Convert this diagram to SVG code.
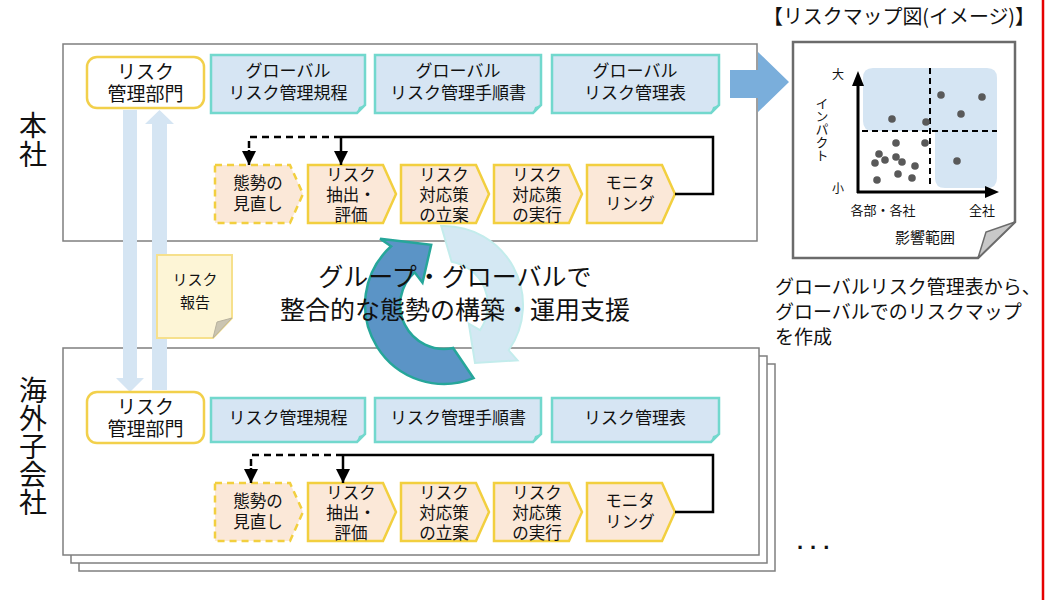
<svg xmlns="http://www.w3.org/2000/svg" width="1054" height="600" viewBox="0 0 1054 600">
<style>
text{font-family:"Noto Sans CJK JP","Noto Sans",sans-serif;fill:#111;}
.frame{fill:#fff;stroke:#7f7f7f;stroke-width:1.5;}
.mgmt{fill:#fff;stroke:#f2d04b;stroke-width:2.5;}
.doc{fill:#d6e5f3;stroke:#72d8cd;stroke-width:2.5;}
.fold{fill:#72d8cd;}
.proc{fill:#fbe8d8;stroke:#f2cf3f;stroke-width:2.5;}
.dash{stroke-dasharray:7,5;}
.t19{font-size:19px;text-anchor:middle;}
.t17{font-size:17px;text-anchor:middle;}
.t16{font-size:16.5px;text-anchor:middle;}
.conn{fill:none;stroke:#000;stroke-width:2.5;}
.rep{fill:#d5e5f3;}
.dot{fill:#595959;}
</style>
<defs>
<marker id="ah" viewBox="0 0 10 10" refX="10" refY="5" markerWidth="14" markerHeight="14" markerUnits="userSpaceOnUse" orient="auto"><path d="M0,0 L10,5 L0,10 z" fill="#000"/></marker>
</defs>

<!-- side labels -->
<g id="label-honsha"><text x="33" y="111" font-size="28" writing-mode="vertical-rl" letter-spacing="1">本社</text></g>
<g id="label-kaigai"><text x="33" y="376" font-size="28" writing-mode="vertical-rl">海外子会社</text></g>

<!-- frames -->
<g id="frame-top"><rect class="frame" x="63" y="44" width="694" height="197"/></g>
<g id="frame-bottom">
<rect class="frame" x="79" y="364" width="696" height="207"/>
<rect class="frame" x="71" y="356" width="696" height="207"/>
<rect class="frame" x="63" y="348" width="696" height="207"/>
</g>

<!-- report arrows -->
<g id="report-arrows">
<path class="rep" d="M123,110 H137 V378 H144 L130,392 L116,378 H123 Z"/>
<path class="rep" d="M152,390 V124 H145 L159.5,110 L174,124 H167 V390 Z"/>
</g>

<!-- top row (HQ) -->
<g id="hq-mgmt"><rect class="mgmt" x="87" y="57" width="117" height="51" rx="10"/>
<text class="t19" x="145.5" y="79">リスク<tspan x="145.5" dy="22">管理部門</tspan></text></g>
<g id="hq-doc1"><path class="doc" d="M211,55 H365 V105 L357,113 H211 Z"/><path class="fold" d="M357,113 L359,107 L365,105 Z"/>
<text class="t17" x="288" y="77">グローバル<tspan x="288" dy="22">リスク管理規程</tspan></text></g>
<g id="hq-doc2"><path class="doc" d="M375,55 H541 V105 L533,113 H375 Z"/><path class="fold" d="M533,113 L535,107 L541,105 Z"/>
<text class="t17" x="458" y="77">グローバル<tspan x="458" dy="22">リスク管理手順書</tspan></text></g>
<g id="hq-doc3"><path class="doc" d="M552,55 H719 V105 L711,113 H552 Z"/><path class="fold" d="M711,113 L713,107 L719,105 Z"/>
<text class="t17" x="635" y="77">グローバル<tspan x="635" dy="22">リスク管理表</tspan></text></g>

<g id="hq-p1"><path class="proc dash" d="M215,165 H290 L303,194 L290,223 H215 Z"/>
<text class="t16" x="258" y="189">態勢の<tspan x="258" dy="21">見直し</tspan></text></g>
<g id="hq-p2"><path class="proc" d="M308,165 H383 L396,194 L383,223 H308 Z"/>
<text class="t16" x="351" y="181">リスク<tspan x="351" dy="20">抽出・</tspan><tspan x="351" dy="20">評価</tspan></text></g>
<g id="hq-p3"><path class="proc" d="M401,165 H476 L489,194 L476,223 H401 Z"/>
<text class="t16" x="444" y="181">リスク<tspan x="444" dy="20">対応策</tspan><tspan x="444" dy="20">の立案</tspan></text></g>
<g id="hq-p4"><path class="proc" d="M494,165 H569 L582,194 L569,223 H494 Z"/>
<text class="t16" x="537" y="181">リスク<tspan x="537" dy="20">対応策</tspan><tspan x="537" dy="20">の実行</tspan></text></g>
<g id="hq-p5"><path class="proc" d="M587,165 H662 L675,194 L662,223 H587 Z"/>
<text class="t16" x="630" y="189">モニタ<tspan x="630" dy="21">リング</tspan></text></g>

<!-- bottom row (subsidiary) -->
<g id="sub-mgmt"><rect class="mgmt" x="87" y="392" width="117" height="51" rx="10"/>
<text class="t19" x="145.5" y="414">リスク<tspan x="145.5" dy="22">管理部門</tspan></text></g>
<g id="sub-doc1"><path class="doc" d="M211,398 H365 V434 L357,442 H211 Z"/><path class="fold" d="M357,442 L359,436 L365,434 Z"/>
<text class="t17" x="288" y="424">リスク管理規程</text></g>
<g id="sub-doc2"><path class="doc" d="M375,398 H541 V434 L533,442 H375 Z"/><path class="fold" d="M533,442 L535,436 L541,434 Z"/>
<text class="t17" x="458" y="424">リスク管理手順書</text></g>
<g id="sub-doc3"><path class="doc" d="M552,398 H719 V434 L711,442 H552 Z"/><path class="fold" d="M711,442 L713,436 L719,434 Z"/>
<text class="t17" x="635" y="424">リスク管理表</text></g>

<g id="sub-p1"><path class="proc dash" d="M215,483 H290 L303,512 L290,541 H215 Z"/>
<text class="t16" x="258" y="507">態勢の<tspan x="258" dy="21">見直し</tspan></text></g>
<g id="sub-p2"><path class="proc" d="M308,483 H383 L396,512 L383,541 H308 Z"/>
<text class="t16" x="351" y="499">リスク<tspan x="351" dy="20">抽出・</tspan><tspan x="351" dy="20">評価</tspan></text></g>
<g id="sub-p3"><path class="proc" d="M401,483 H476 L489,512 L476,541 H401 Z"/>
<text class="t16" x="444" y="499">リスク<tspan x="444" dy="20">対応策</tspan><tspan x="444" dy="20">の立案</tspan></text></g>
<g id="sub-p4"><path class="proc" d="M494,483 H569 L582,512 L569,541 H494 Z"/>
<text class="t16" x="537" y="499">リスク<tspan x="537" dy="20">対応策</tspan><tspan x="537" dy="20">の実行</tspan></text></g>
<g id="sub-p5"><path class="proc" d="M587,483 H662 L675,512 L662,541 H587 Z"/>
<text class="t16" x="630" y="507">モニタ<tspan x="630" dy="21">リング</tspan></text></g>

<!-- connectors -->
<g id="connectors">
<path class="conn" d="M675,194 H713 V137 H341"/>
<path class="conn" d="M341,137 V165" marker-end="url(#ah)"/>
<path class="conn dash" d="M341,137 H249 V152"/>
<path class="conn" d="M249,150 V165" marker-end="url(#ah)"/>
<path class="conn" d="M675,512 H713 V455 H343"/>
<path class="conn" d="M343,455 V483" marker-end="url(#ah)"/>
<path class="conn dash" d="M343,455 H251 V470"/>
<path class="conn" d="M251,468 V483" marker-end="url(#ah)"/>
</g>

<!-- risk report note -->
<g id="risk-report">
<path d="M157,255 H232 V318 L213,338 H157 Z" fill="#fdf5d6" stroke="#f6e08c" stroke-width="2"/>
<path d="M213,338 L217,322 L232,318 Z" fill="#cbc5b2" stroke="#b8b29e" stroke-width="1"/>
<text x="195" y="285" font-size="15" text-anchor="middle">リスク<tspan x="195" dy="23">報告</tspan></text>
</g>

<!-- cycle arrows -->
<g id="cycle">
<path d="M441.2,226 A79,79 0 0 1 508.7,350.3 L517.5,360.4 L475,363 L468.8,323.7 L480,330.2 A44,44 0 0 0 451.6,261.7 Z" fill="#d4e8f3" stroke="#c3ecec" stroke-width="2"/>
<path d="M473.6,378.2 A79,79 0 0 1 391.1,246.3 L380.1,238.8 L431.2,244.8 L422.5,282.7 L414.6,272.3 A44,44 0 0 0 453.1,348 Z" fill="#5b94c6" stroke="#26a69a" stroke-width="2.5"/>
<text x="455" y="286" font-size="25" text-anchor="middle">グループ・グローバルで<tspan x="455" dy="33">整合的な態勢の構築・運用支援</tspan></text>
</g>

<!-- big arrow -->
<g id="big-arrow"><path d="M730,70 H758 V52 L789,82 L758,112 V98 H730 Z" fill="#7aaedb"/></g>

<!-- risk map -->
<g id="riskmap">
<text x="763" y="24" font-size="20" textLength="272" lengthAdjust="spacingAndGlyphs">【リスクマップ図(イメージ)】</text>
<path d="M793,42 H1015 V222 L978,258 H793 Z" fill="#fff" stroke="#6b6b6b" stroke-width="2.5"/>
<path d="M978,258 L986,232 L1015,222 Z" fill="#c8c8c8" stroke="#6b6b6b" stroke-width="1.5"/>
<path d="M873,68 H987 Q997,68 997,78 V178 Q997,188 987,188 H945 Q935,188 935,178 V131 H873 Q863,131 863,121 V78 Q863,68 873,68 Z" fill="#d5e5f3"/>
<g stroke="#000" stroke-width="2" stroke-dasharray="6,4">
<line x1="930" y1="68" x2="930" y2="188"/>
<line x1="862" y1="131" x2="997" y2="131"/>
</g>
<g class="dot">
<circle cx="941" cy="95" r="3.8"/><circle cx="982" cy="97" r="3.8"/><circle cx="961" cy="114" r="3.8"/>
<circle cx="892" cy="119" r="3.8"/><circle cx="926" cy="122" r="3.8"/><circle cx="896" cy="143" r="3.8"/>
<circle cx="925" cy="143" r="3.8"/><circle cx="879" cy="154" r="3.8"/><circle cx="896" cy="157" r="3.8"/>
<circle cx="875" cy="163" r="3.8"/><circle cx="885" cy="160" r="3.8"/><circle cx="902" cy="162" r="3.8"/>
<circle cx="915" cy="166" r="3.8"/><circle cx="957" cy="161" r="3.8"/><circle cx="898" cy="174" r="3.8"/>
<circle cx="877" cy="180" r="3.8"/><circle cx="912" cy="178" r="3.8"/>
</g>
<path d="M858,193 V84 M857,192 H986" stroke="#000" stroke-width="3" fill="none"/>
<path d="M852,86 L864,86 L858,71 Z M985,186 L985,198 L999,192 Z" fill="#000"/>
<text x="838" y="79" font-size="12" text-anchor="middle">大</text>
<text x="838" y="193" font-size="12" text-anchor="middle">小</text>
<text x="822" y="97" font-size="13" writing-mode="vertical-rl">インパクト</text>
<text x="883" y="215" font-size="13" text-anchor="middle">各部・各社</text>
<text x="982" y="215" font-size="13" text-anchor="middle">全社</text>
<text x="925" y="243" font-size="15" text-anchor="middle">影響範囲</text>
</g>

<g id="map-caption" font-size="19">
<text x="775" y="294">グローバルリスク管理表から、<tspan x="775" dy="25">グローバルでのリスクマップ</tspan><tspan x="775" dy="25">を作成</tspan></text>
</g>

<g id="ellipsis"><text x="797" y="549" font-size="22" font-weight="bold" letter-spacing="7" style="font-family:'Liberation Sans',sans-serif">...</text></g>

<line x1="1043" y1="0" x2="1043" y2="600" stroke="#e60000" stroke-width="2.5"/>
</svg>
